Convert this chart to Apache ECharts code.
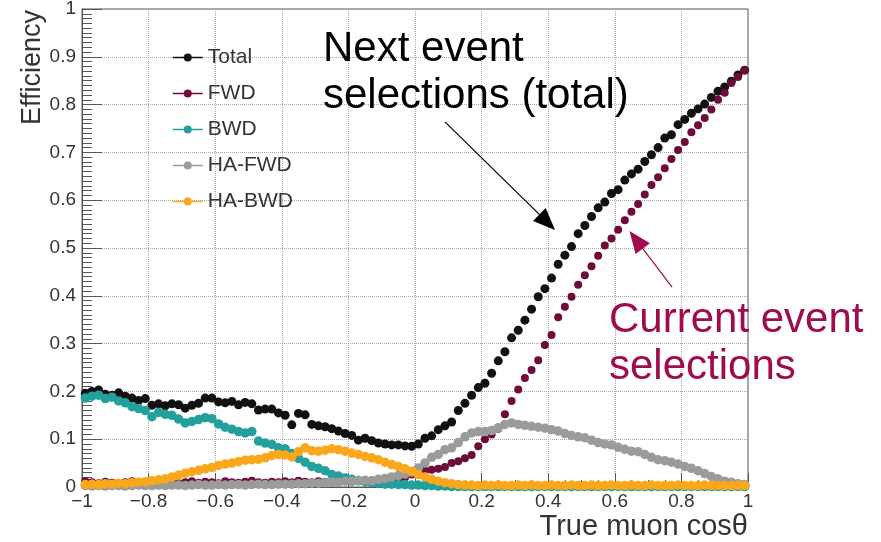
<!DOCTYPE html>
<html>
<head>
<meta charset="utf-8">
<script src="https://cdn.jsdelivr.net/npm/echarts@6/dist/echarts.min.js"></script>
<style>
  html, body { margin: 0; padding: 0; background: #ffffff; }
  #chart { width: 881px; height: 542px; }
</style>
</head>
<body>
<div id="chart"></div>
<script>
// Histogram binning of true muon cos(theta): 100 bins on [-1, 1]
const binLow = -1;
const binWidth = 0.02;
const nBins = 100;

// Efficiency per bin
const total = [
  0.196, 0.200, 0.203, 0.194, 0.192, 0.197, 0.190, 0.186, 0.181, 0.185,
  0.171, 0.174, 0.170, 0.174, 0.172, 0.165, 0.171, 0.175, 0.186, 0.186,
  0.178, 0.176, 0.179, 0.172, 0.177, 0.174, 0.161, 0.163, 0.163, 0.155,
  0.150, 0.130, 0.154, 0.151, 0.131, 0.128, 0.126, 0.122, 0.117, 0.112,
  0.108, 0.098, 0.102, 0.097, 0.092, 0.090, 0.088, 0.088, 0.086, 0.085,
  0.090, 0.102, 0.107, 0.120, 0.128, 0.136, 0.160, 0.175, 0.192, 0.208,
  0.217, 0.238, 0.264, 0.283, 0.312, 0.328, 0.349, 0.372, 0.398, 0.415,
  0.437, 0.466, 0.485, 0.503, 0.530, 0.547, 0.566, 0.584, 0.596, 0.614,
  0.622, 0.642, 0.655, 0.665, 0.681, 0.695, 0.710, 0.730, 0.737, 0.758,
  0.769, 0.782, 0.791, 0.801, 0.815, 0.828, 0.837, 0.849, 0.862, 0.872
];
const fwd = [
  0.012, 0.010, 0.008, 0.011, 0.009, 0.007, 0.010, 0.012, 0.009, 0.008,
  0.011, 0.009, 0.013, 0.010, 0.008, 0.010, 0.012, 0.009, 0.011, 0.010,
  0.008, 0.012, 0.010, 0.009, 0.011, 0.013, 0.010, 0.009, 0.011, 0.010,
  0.012, 0.010, 0.013, 0.011, 0.010, 0.012, 0.011, 0.010, 0.013, 0.012,
  0.011, 0.013, 0.012, 0.014, 0.013, 0.014, 0.016, 0.018, 0.020, 0.026,
  0.032, 0.034, 0.036, 0.038, 0.042, 0.050, 0.054, 0.060, 0.067, 0.085,
  0.100, 0.110, 0.122, 0.152, 0.180, 0.204, 0.228, 0.245, 0.265, 0.297,
  0.318, 0.355, 0.377, 0.398, 0.423, 0.443, 0.462, 0.484, 0.505, 0.520,
  0.538, 0.558, 0.576, 0.592, 0.612, 0.632, 0.648, 0.667, 0.686, 0.705,
  0.722, 0.742, 0.757, 0.772, 0.790, 0.810, 0.825, 0.845, 0.858, 0.872
];
const bwd = [
  0.186, 0.190, 0.192, 0.185, 0.188, 0.180, 0.176, 0.168, 0.164, 0.160,
  0.147, 0.156, 0.152, 0.150, 0.142, 0.134, 0.137, 0.141, 0.145, 0.143,
  0.132, 0.125, 0.121, 0.116, 0.113, 0.116, 0.096, 0.092, 0.089, 0.082,
  0.080, 0.070, 0.060, 0.052, 0.043, 0.039, 0.034, 0.026, 0.023, 0.019,
  0.016, 0.013, 0.011, 0.009, 0.008, 0.006, 0.006, 0.005, 0.005, 0.004,
  0.004, 0.003, 0.003, 0.002, 0.002, 0.001, 0.001, 0.001, 0.001, 0.001,
  0.001, 0.001, 0.001, 0.001, 0.001, 0.001, 0.001, 0.001, 0.001, 0.001,
  0.001, 0.001, 0.001, 0.001, 0.001, 0.001, 0.001, 0.001, 0.001, 0.001,
  0.001, 0.001, 0.001, 0.001, 0.001, 0.001, 0.001, 0.001, 0.001, 0.001,
  0.001, 0.001, 0.001, 0.001, 0.001, 0.001, 0.001, 0.001, 0.001, 0.001
];
const haFwd = [
  0.003, 0.002, 0.003, 0.002, 0.003, 0.003, 0.002, 0.003, 0.004, 0.003,
  0.003, 0.004, 0.003, 0.004, 0.004, 0.003, 0.004, 0.005, 0.004, 0.004,
  0.005, 0.004, 0.005, 0.005, 0.004, 0.005, 0.006, 0.005, 0.005, 0.006,
  0.006, 0.006, 0.007, 0.007, 0.008, 0.008, 0.009, 0.010, 0.010, 0.012,
  0.012, 0.014, 0.014, 0.013, 0.016, 0.018, 0.021, 0.024, 0.027, 0.031,
  0.040, 0.050, 0.062, 0.068, 0.078, 0.082, 0.093, 0.105, 0.113, 0.116,
  0.116, 0.118, 0.124, 0.131, 0.134, 0.131, 0.129, 0.127, 0.125, 0.123,
  0.120, 0.117, 0.112, 0.108, 0.105, 0.103, 0.098, 0.093, 0.090, 0.088,
  0.083, 0.079, 0.075, 0.074, 0.068, 0.062, 0.057, 0.055, 0.052, 0.048,
  0.043, 0.039, 0.034, 0.028, 0.022, 0.017, 0.012, 0.010, 0.007, 0.005
];
const haBwd = [
  0.005, 0.006, 0.005, 0.007, 0.006, 0.008, 0.007, 0.009, 0.010, 0.011,
  0.013, 0.015, 0.017, 0.021, 0.025, 0.029, 0.032, 0.035, 0.038, 0.041,
  0.045, 0.048, 0.050, 0.053, 0.056, 0.057, 0.058, 0.061, 0.066, 0.068,
  0.067, 0.063, 0.074, 0.082, 0.076, 0.075, 0.077, 0.080, 0.078, 0.075,
  0.071, 0.068, 0.064, 0.061, 0.057, 0.052, 0.047, 0.043, 0.038, 0.033,
  0.026, 0.021, 0.016, 0.012, 0.009, 0.007, 0.005, 0.004, 0.004, 0.003,
  0.004, 0.003, 0.004, 0.003, 0.003, 0.004, 0.003, 0.004, 0.003, 0.003,
  0.004, 0.003, 0.003, 0.004, 0.003, 0.003, 0.004, 0.003, 0.003, 0.004,
  0.003, 0.003, 0.004, 0.003, 0.003, 0.004, 0.003, 0.003, 0.003, 0.004,
  0.003, 0.003, 0.003, 0.004, 0.003, 0.003, 0.003, 0.003, 0.003, 0.003
];

const seriesNames = ['Total', 'FWD', 'BWD', 'HA-FWD', 'HA-BWD'];
const seriesColors = ['#111111', '#6e0b3b', '#23a09c', '#9b9b9b', '#f9a81b'];

const xTickLabels = ['\u22121', '\u22120.8', '\u22120.6', '\u22120.4', '\u22120.2', '0', '0.2', '0.4', '0.6', '0.8', '1'];
const yTickLabels = ['0', '0.1', '0.2', '0.3', '0.4', '0.5', '0.6', '0.7', '0.8', '0.9', '1'];

// Annotation arrows in data coordinates: [tail, head]
const nextArrow = [[0.09, 0.764], [0.397, 0.554]];
const currentArrow = [[0.772, 0.418], [0.664, 0.517]];

const binCenters = Array.from({ length: nBins }, (_, i) => +(binLow + (i + 0.5) * binWidth).toFixed(3));

const FONT = 'Liberation Sans, Arial, Helvetica, sans-serif';

function pointSeries(name, values, color, size, extra) {
  return Object.assign({
    name: name,
    type: 'line',
    data: values.map((v, i) => [binCenters[i], v]),
    symbol: 'circle',
    symbolSize: size,
    showSymbol: true,
    showAllSymbol: true,
    lineStyle: { width: 1.5, opacity: 0, color: color },
    itemStyle: { color: color },
    silent: true,
    animation: false
  }, extra || {});
}

function arrowLine(points, color) {
  return {
    silent: true,
    animation: false,
    symbol: ['none', 'triangle'],
    symbolSize: [18, 22],
    label: { show: false },
    lineStyle: { color: color, width: 1.2, type: 'solid', opacity: 1 },
    itemStyle: { color: color },
    emphasis: { disabled: true },
    data: [[{ coord: points[0] }, { coord: points[1] }]]
  };
}

const chart = echarts.init(document.getElementById('chart'), null, { renderer: 'canvas' });

chart.setOption({
  animation: false,
  backgroundColor: '#ffffff',
  grid: {
    left: 82, right: 133, top: 9, bottom: 55,
    show: true, borderColor: '#555555', borderWidth: 1,
    containLabel: false, outerBoundsMode: 'none'
  },
  legend: {
    orient: 'vertical',
    left: 167, top: 42,
    itemWidth: 30, itemHeight: 10, itemGap: 15,
    data: seriesNames,
    selectedMode: false,
    textStyle: { fontFamily: FONT, fontSize: 21, color: '#333333' },
    lineStyle: { width: 1.5, opacity: 1 }
  },
  xAxis: {
    type: 'value', min: -1, max: 1, interval: 0.2,
    name: 'True muon cos\u03b8',
    nameLocation: 'end', nameGap: 0,
    nameTextStyle: { fontFamily: FONT, fontSize: 29, color: '#333333', align: 'right', verticalAlign: 'top', padding: [25, 0, 0, 0] },
    axisLine: { show: true, onZero: false, lineStyle: { color: '#555555', width: 1 } },
    axisTick: { show: true, inside: true, length: 14, lineStyle: { color: '#555555' } },
    minorTick: { show: true, splitNumber: 4, length: 7, lineStyle: { color: '#555555' } },
    axisLabel: {
      fontFamily: FONT, fontSize: 19, color: '#333333', margin: 5,
      showMinLabel: true, showMaxLabel: true, hideOverlap: false,
      formatter: v => xTickLabels[Math.round((v - binLow) / 0.2)]
    },
    splitLine: { show: true, lineStyle: { color: '#a8a8a8', type: 'dotted', width: 1 } }
  },
  yAxis: {
    type: 'value', min: 0, max: 1, interval: 0.1,
    axisLine: { show: true, onZero: false, lineStyle: { color: '#555555', width: 1 } },
    axisTick: { show: true, inside: true, length: 20, lineStyle: { color: '#555555' } },
    minorTick: { show: true, splitNumber: 10, length: 10, lineStyle: { color: '#555555' } },
    axisLabel: {
      fontFamily: FONT, fontSize: 19, color: '#333333', margin: 6,
      showMinLabel: true, showMaxLabel: true, hideOverlap: false,
      formatter: v => yTickLabels[Math.round(v * 10)]
    },
    splitLine: { show: true, lineStyle: { color: '#a8a8a8', type: 'dotted', width: 1 } }
  },
  series: [
    pointSeries(seriesNames[0], total, seriesColors[0], 9, { markLine: arrowLine(nextArrow, '#000000') }),
    pointSeries(seriesNames[1], fwd, seriesColors[1], 8, { markLine: arrowLine(currentArrow, '#a00a4e') }),
    pointSeries(seriesNames[2], bwd, seriesColors[2], 9.5),
    pointSeries(seriesNames[3], haFwd, seriesColors[3], 9.5),
    pointSeries(seriesNames[4], haBwd, seriesColors[4], 9.5)
  ],
  graphic: [
    {
      // y-axis title, reading bottom to top, ending near the top of the frame
      type: 'text', x: 33, y: 10, rotation: Math.PI / 2, z: 100, silent: true,
      style: { text: 'Efficiency', font: '27px ' + FONT, fill: '#333333', align: 'right', verticalAlign: 'middle' }
    },
    {
      type: 'text', left: 323, top: 26, z: 100, silent: true,
      style: { text: 'Next event\nselections (total)', font: '42px ' + FONT, fill: '#000000', lineHeight: 47 }
    },
    {
      type: 'text', left: 609, top: 297, z: 100, silent: true,
      style: { text: 'Current event\nselections', font: '42px ' + FONT, fill: '#a00a4e', lineHeight: 47 }
    }
  ]
});
</script>
</body>
</html>
